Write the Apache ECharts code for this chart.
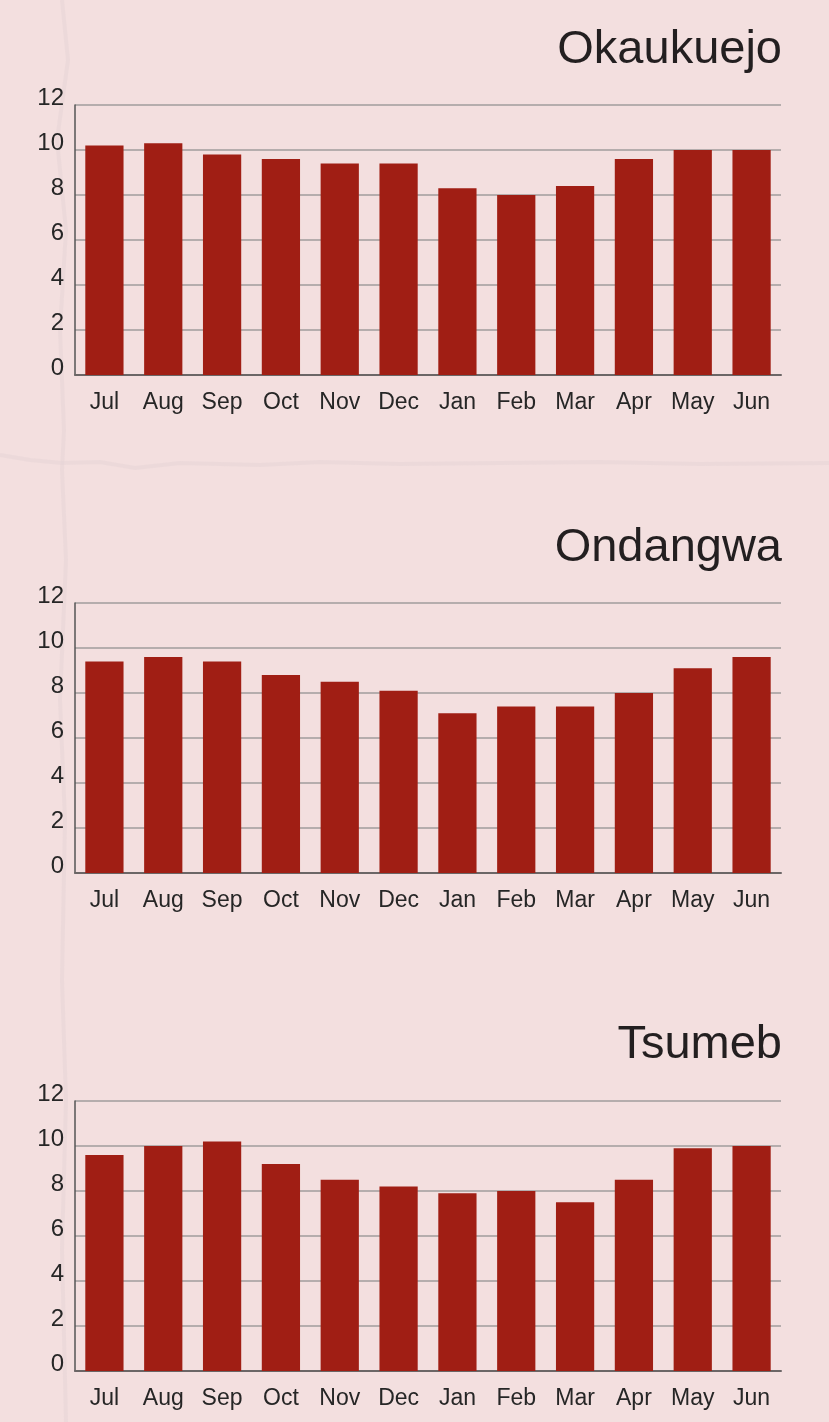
<!DOCTYPE html>
<html>
<head>
<meta charset="utf-8">
<script src="https://cdn.jsdelivr.net/npm/echarts@6/dist/echarts.min.js"></script>
<style>
html,body{margin:0;padding:0;background:#f3dfdf;}
#c{width:829px;height:1422px;}
</style>
</head>
<body>
<div id="c"></div>
<script>
const months = ['Jul','Aug','Sep','Oct','Nov','Dec','Jan','Feb','Mar','Apr','May','Jun'];
const stations = ['Okaukuejo','Ondangwa','Tsumeb'];
const okaukuejo = [10.2,10.3,9.8,9.6,9.4,9.4,8.3,8.0,8.4,9.6,10.0,10.0];
const ondangwa  = [9.4,9.6,9.4,8.8,8.5,8.1,7.1,7.4,7.4,8.0,9.1,9.6];
const tsumeb    = [9.6,10.0,10.2,9.2,8.5,8.2,7.9,8.0,7.5,8.5,9.9,10.0];
const yTicks = [0,2,4,6,8,10,12];
const seriesData = [okaukuejo, ondangwa, tsumeb];

const panelTops = [105, 603, 1101];
const titleTops = [27, 525, 1022];
const font = '"Liberation Sans", Arial, Helvetica, sans-serif';

const chart = echarts.init(document.getElementById('c'), null, {renderer:'canvas'});
const option = {
  backgroundColor: '#f3dfdf',
  animation: false,
  title: stations.map((s,i)=>({
    text: s, right: 47, top: titleTops[i], padding: 0,
    textStyle: {fontFamily: font, fontSize: 47, fontWeight: 'normal', color: '#231f20'}
  })),
  graphic: [
    {type:'polyline', silent:true, z:-1, shape:{points:[[62,0],[68,60],[57,140],[66,230],[60,330],[64,430],[62,470],[66,560],[60,700],[65,820],[62,980],[66,1100],[62,1250],[66,1422]]}, style:{stroke:'rgba(228,210,212,0.45)', lineWidth:4, fill:null}},
    {type:'polyline', silent:true, z:-1, shape:{points:[[0,455],[30,460],[62,463],[100,462],[135,468],[180,463],[260,465],[320,462],[400,464],[500,463],[600,462],[700,464],[829,463]]}, style:{stroke:'rgba(228,210,212,0.45)', lineWidth:4, fill:null}}
  ],
  grid: panelTops.map(t=>({left:75, right:48, top:t, height:270})),
  xAxis: panelTops.map((t,i)=>({
    type:'category', gridIndex:i, data: months, boundaryGap:true,
    axisLine:{show:true, lineStyle:{color:'#6b6666', width:2}},
    axisTick:{show:false},
    axisLabel:{fontFamily:font, fontSize:23, color:'#262626', margin:16, interval:0}
  })),
  yAxis: panelTops.map((t,i)=>({
    type:'value', gridIndex:i, min:0, max:12, interval:2,
    axisLine:{show:true, lineStyle:{color:'#555', width:1.5}},
    axisTick:{show:false},
    splitLine:{show:true, lineStyle:{color:'#a09c9c', width:1.5}},
    axisLabel:{fontFamily:font, fontSize:24, color:'#262626', margin:11, verticalAlign:'bottom', lineHeight:14,
      formatter: v => yTicks.includes(v) ? String(v) : ''}
  })),
  series: seriesData.map((d,i)=>({
    type:'bar', xAxisIndex:i, yAxisIndex:i, data:d, barWidth:'65%',
    itemStyle:{color:'#a01e14'}
  }))
};
chart.setOption(option);
</script>
</body>
</html>
